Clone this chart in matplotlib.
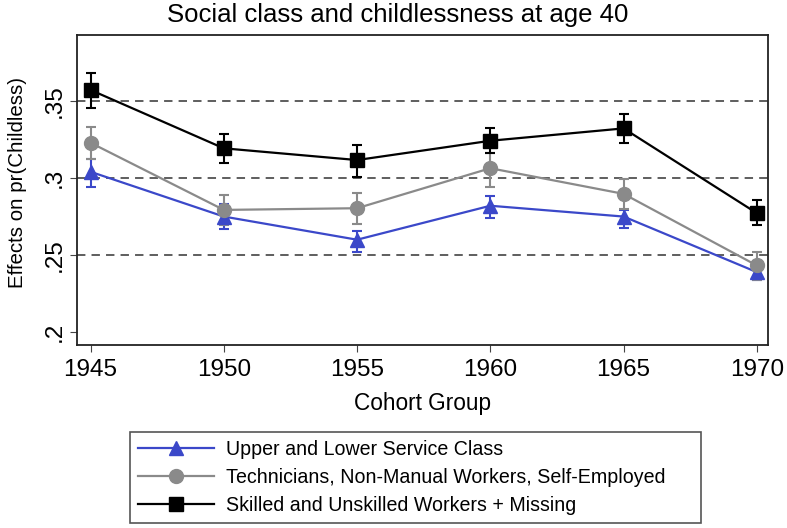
import numpy as np
import matplotlib.pyplot as plt

plt.rcParams['font.family'] = ['Liberation Sans', 'DejaVu Sans']

# Data
cohorts = [1945, 1950, 1955, 1960, 1965, 1970]

service = [0.304, 0.275, 0.260, 0.282, 0.275, 0.239]
service_lo = [0.2944, 0.2668, 0.2523, 0.2743, 0.2675, 0.2340]
service_hi = [0.3123, 0.2832, 0.2657, 0.2884, 0.2793, 0.2460]

technic = [0.3228, 0.2793, 0.2804, 0.3063, 0.2897, 0.2433]
technic_lo = [0.3123, 0.2696, 0.2702, 0.2940, 0.2800, 0.2340]
technic_hi = [0.3332, 0.2890, 0.2905, 0.3162, 0.2994, 0.2523]

workers = [0.357, 0.3192, 0.3116, 0.3241, 0.3321, 0.2772]
workers_lo = [0.3455, 0.3095, 0.3008, 0.3164, 0.3224, 0.2696]
workers_hi = [0.3677, 0.3285, 0.3213, 0.3321, 0.3414, 0.2858]

labels = ['Upper and Lower Service Class',
          'Technicians, Non-Manual Workers, Self-Employed',
          'Skilled and Unskilled Workers + Missing']

#--------------------------------------------------------------------------------------------
fig = plt.figure(figsize=(7.87, 5.28), dpi=100)
ax = fig.add_axes([0.0978, 0.3466, 0.8781, 0.5871])

# Reference lines
for yv in [0.25, 0.30, 0.35]:
    ax.axhline(yv, color='#333333', linestyle=(0, (5.5, 4)), linewidth=1.1, zorder=1)

series = [
    (service, service_lo, service_hi, '#3b48c9', '^'),
    (technic, technic_lo, technic_hi, '#8a8a8a', 'o'),
    (workers, workers_lo, workers_hi, '#000000', 's'),
]

handles = []
for vals, lo, hi, col, mk in series:
    vals = np.array(vals)
    err = [vals - np.array(lo), np.array(hi) - vals]
    ax.errorbar(cohorts, vals, yerr=err, fmt='none', ecolor=col, elinewidth=1.5,
                capsize=3.5, capthick=1.5, zorder=2)
    h, = ax.plot(cohorts, vals, color=col, marker=mk, markersize=10,
                 linewidth=1.6, zorder=3)
    handles.append(h)

ax.set_xlim(1944.49, 1970.42)
ax.set_ylim(0.1918, 0.3926)
ax.set_xticks(cohorts)
ax.set_yticks([0.2, 0.25, 0.3, 0.35])
ax.set_yticklabels(['.2', '.25', '.3', '.35'], rotation=90, va='center')
ax.tick_params(axis='both', labelsize=17.5, direction='out', length=5, width=0.8, color='#444444')
ax.tick_params(axis='x', pad=5)
ax.tick_params(axis='y', pad=3)
for sp in ax.spines.values():
    sp.set_linewidth(1.3)
    sp.set_color('#222222')

ax.set_xlabel('Cohort Group', fontsize=16.3, labelpad=8)
ax.set_ylabel('Effects on pr(Childless)', fontsize=14.8)
ax.yaxis.set_label_coords(-0.072, 0.523)

# Title centred on the figure
fig.text(398 / 787, 1 - 15 / 528, 'Social class and childlessness at age 40',
         fontsize=18.5, ha='center', va='center')

# Legend below the plot
leg = fig.legend(handles, labels, loc='lower left',
                 bbox_to_anchor=(130 / 787, 1 - 522.7 / 528, (701 - 130) / 787, 0.17),
                 mode='expand', borderaxespad=0, fontsize=14.1, handlelength=3.9,
                 handletextpad=0.6, labelspacing=0.45, fancybox=False,
                 edgecolor='#555555', framealpha=1, borderpad=0.4)
leg.get_frame().set_linewidth(1.2)

plt.savefig('out.png', dpi=100)
